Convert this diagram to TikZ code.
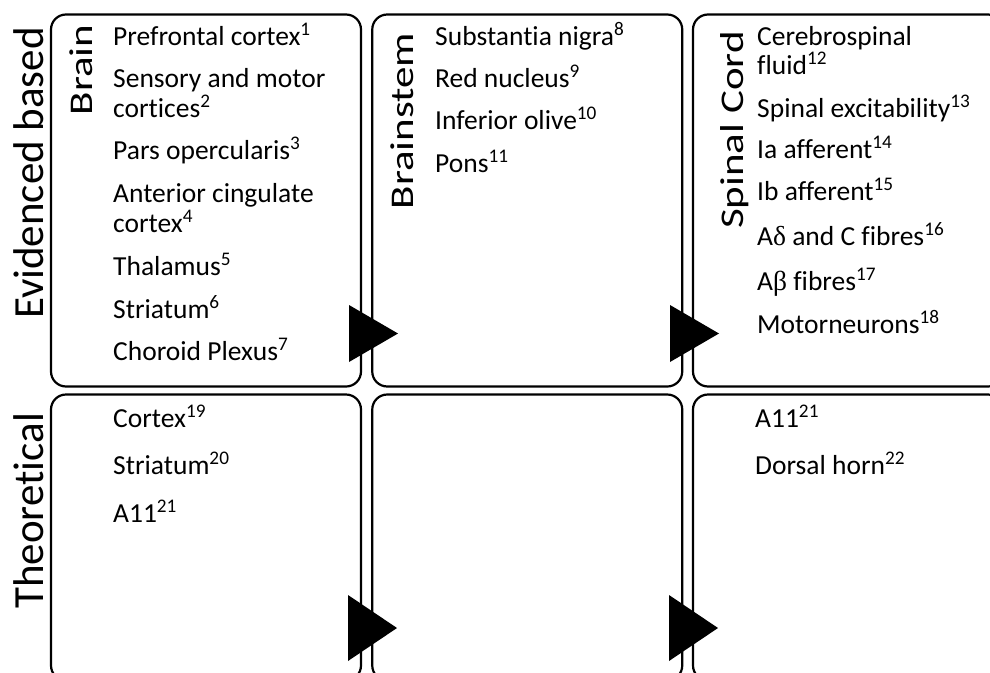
\documentclass[tikz,border=0pt]{standalone}
\usepackage{fontspec}
\usepackage{graphicx}
\setmainfont{Carlito}[Ligatures={NoCommon,NoRare}]
\newfontfamily\greekfont{Liberation Serif}
\usetikzlibrary{shapes.geometric}
\newcommand{\squash}[1]{\scalebox{1}[0.77]{#1}}

\begin{document}
\begin{tikzpicture}[x=1pt,y=-1pt]
	\useasboundingbox (0,0) rectangle (990,672);
	\clip (0,0) rectangle (990,672);
	% panels
	\begin{scope}[every node/.style={draw=black,line width=2.2pt,rounded corners=15pt,minimum width=310pt,inner sep=0pt}]
	\node[minimum height=372pt] (brain) at (206,200.5) {};
	\node[minimum height=372pt] (brainstem) at (527.25,200.5) {};
	\node[minimum height=372pt] (cord) at (848,200.5) {};
	\node[minimum height=286pt] (brainT) at (206,537.5) {};
	\node[minimum height=286pt] (brainstemT) at (527.25,537.5) {};
	\node[minimum height=286pt] (cordT) at (848,537.5) {};
	\end{scope}
	% arrow heads
	\begin{scope}[every node/.style={isosceles triangle,isosceles triangle stretches,fill=black,inner sep=0pt,outer sep=0pt,minimum height=49pt,anchor=apex}]
	\node[minimum width=57pt] (arrA) at (398,333.5) {};
	\node[minimum width=57pt] (arrB) at (719,333.5) {};
	\node[minimum width=66pt] (arrC) at (397,628) {};
	\node[minimum width=66pt] (arrD) at (718,628) {};
	\end{scope}
	% row and column labels
	\begin{scope}[every node/.style={rotate=90,anchor=base,inner sep=0pt,font=\fontsize{43}{48}\selectfont}]
	\node (evid) at (43,173) {Evidenced based};
	\node (theo) at (43,511) {Theoretical};
	\node (brainlbl) at (92,70) {\squash{Brain}};
	\node (stemlbl) at (413,121) {\squash{Brainstem}};
	\node (cordlbl) at (743,130) {\squash{Spinal Cord}};
	\end{scope}
	% regions
	\begin{scope}[every node/.style={anchor=base west,inner sep=0pt,font=\fontsize{27.5}{30}\selectfont}]
	\node (pfc) at (113,45) {Prefrontal cortex\textsuperscript{1}};
	\node (smcA) at (113,87) {Sensory and motor};
	\node (smcB) at (113,117) {cortices\textsuperscript{2}};
	\node (pars) at (113,159) {Pars opercularis\textsuperscript{3}};
	\node (accA) at (113,202) {Anterior cingulate};
	\node (accB) at (113,232) {cortex\textsuperscript{4}};
	\node (thal) at (113,275) {Thalamus\textsuperscript{5}};
	\node (stri) at (113,318) {Striatum\textsuperscript{6}};
	\node (chor) at (113,360) {Choroid Plexus\textsuperscript{7}};
	\node (snig) at (435,45) {Substantia nigra\textsuperscript{8}};
	\node (rnuc) at (435,87) {Red nucleus\textsuperscript{9}};
	\node (iolv) at (435,129) {Inferior olive\textsuperscript{10}};
	\node (pons) at (435,172) {Pons\textsuperscript{11}};
	\node (csfA) at (757,45) {Cerebrospinal};
	\node (csfB) at (757,74) {fluid\textsuperscript{12}};
	\node (spex) at (757,117) {Spinal excitability\textsuperscript{13}};
	\node (iaaf) at (757,158) {Ia afferent\textsuperscript{14}};
	\node (ibaf) at (757,200) {Ib afferent\textsuperscript{15}};
	\node (adel) at (757,245) {A{\greekfont δ} and C fibres\textsuperscript{16}};
	\node (abet) at (757,290) {A{\greekfont β} fibres\textsuperscript{17}};
	\node (moto) at (757,333) {Motorneurons\textsuperscript{18}};
	\node (ctxT) at (113,427) {Cortex\textsuperscript{19}};
	\node (striT) at (113,474) {Striatum\textsuperscript{20}};
	\node (aelvA) at (113,522) {A11\textsuperscript{21}};
	\node (aelvB) at (755,427) {A11\textsuperscript{21}};
	\node (dhorn) at (755,474) {Dorsal horn\textsuperscript{22}};
	\end{scope}
\end{tikzpicture}
\end{document}
